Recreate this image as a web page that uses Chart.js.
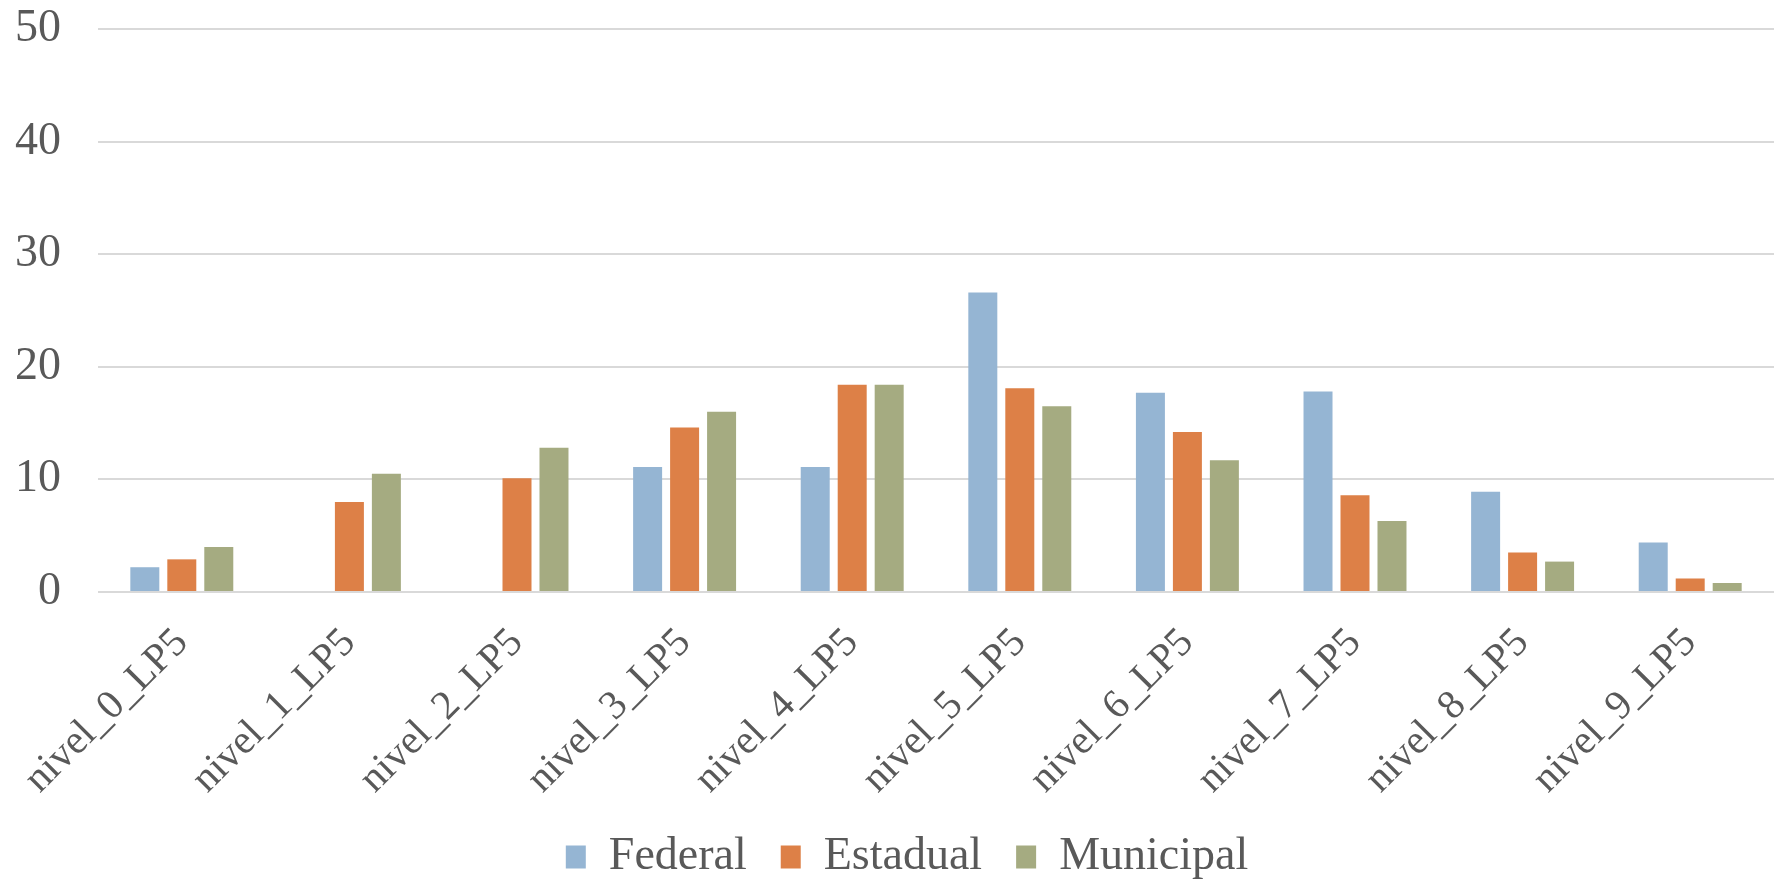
<!DOCTYPE html>
<html>
<head>
<meta charset="utf-8">
<script src="https://cdn.jsdelivr.net/npm/chart.js@4.4.0/dist/chart.umd.min.js"></script>
<style>
  html, body { margin: 0; padding: 0; background: #fff; }
  #wrap { width: 1774px; height: 879px; }
</style>
</head>
<body>
<div id="wrap"><canvas id="chart"></canvas></div>
<script>
// categories and series
const categories = ['nivel_0_LP5', 'nivel_1_LP5', 'nivel_2_LP5', 'nivel_3_LP5', 'nivel_4_LP5',
                    'nivel_5_LP5', 'nivel_6_LP5', 'nivel_7_LP5', 'nivel_8_LP5', 'nivel_9_LP5'];
const federal   = [2.2, null, null, 11.1, 11.1, 26.6, 17.7, 17.8, 8.9, 4.4];
const estadual  = [2.9, 8.0, 10.1, 14.6, 18.4, 18.1, 14.2, 8.6, 3.5, 1.2];
const municipal = [4.0, 10.5, 12.8, 16.0, 18.4, 16.5, 11.7, 6.3, 2.7, 0.8];
const yTicks = [0, 10, 20, 30, 40, 50];

const colors = {
    federal: '#95b5d3',
    estadual: '#dd8047',
    municipal: '#a5ab81',
    text: '#595959',
    grid: '#d9d9d9'
};

const serif = '"Liberation Serif", "DejaVu Serif", serif';

// the legend in the reference sits a little right of the canvas centre
const legendShift = {
    id: 'legendShift',
    afterLayout(chart) {
        chart.legend.left += 20;
        chart.legend.right += 20;
    }
};

new Chart(document.getElementById('chart'), {
    type: 'bar',
    data: {
        labels: categories,
        datasets: [
            { label: 'Federal', data: federal, backgroundColor: colors.federal },
            { label: 'Estadual', data: estadual, backgroundColor: colors.estadual },
            { label: 'Municipal', data: municipal, backgroundColor: colors.municipal }
        ]
    },
    plugins: [legendShift],
    options: {
        responsive: true,
        maintainAspectRatio: false,
        animation: false,
        categoryPercentage: 0.662,
        barPercentage: 0.784,
        layout: { padding: { left: 0, right: 0, top: 29, bottom: -11 } },
        plugins: {
            tooltip: { enabled: false },
            legend: {
                position: 'bottom',
                labels: {
                    color: colors.text,
                    font: { family: serif, size: 46 },
                    boxWidth: 20,
                    boxHeight: 23,
                    padding: 34
                }
            }
        },
        scales: {
            x: {
                grid: { display: false },
                border: { display: false },
                ticks: {
                    color: colors.text,
                    font: { family: serif, size: 41 },
                    autoSkip: false,
                    minRotation: 45,
                    maxRotation: 45,
                    padding: 19
                },
                // keep the plot edges where the reference has them
                afterFit: scale => {
                    scale.paddingLeft = 0;
                    scale.paddingRight = 0;
                    scale.height = 208;
                }
            },
            y: {
                min: 0,
                max: 50,
                afterBuildTicks: axis => { axis.ticks = yTicks.map(v => ({ value: v })); },
                grid: { color: colors.grid, lineWidth: 2, drawTicks: false },
                border: { display: false },
                ticks: {
                    color: colors.text,
                    font: { family: serif, size: 46 },
                    padding: 37
                },
                afterFit: scale => {
                    scale.width = 98;
                    scale.paddingTop = 0;
                    scale.paddingBottom = 0;
                }
            }
        }
    }
});
</script>
</body>
</html>
